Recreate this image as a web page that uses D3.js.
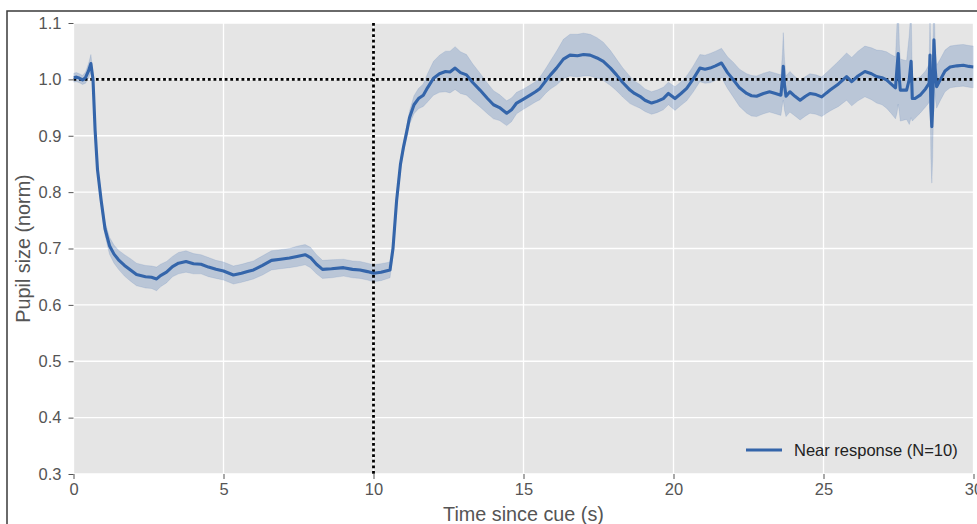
<!DOCTYPE html>
<html>
<head>
<meta charset="utf-8">
<script src="https://cdn.jsdelivr.net/npm/d3@7"></script>
<style>
  html, body { margin: 0; padding: 0; background: #ffffff; }
  svg { display: block; }
  text { font-family: "Liberation Sans", Arial, sans-serif; }
</style>
</head>
<body>
<svg id="chart" width="977" height="524"></svg>
<script>
// ---- data ----
const timeSec = [
  0.00,0.10,0.20,0.30,0.40,0.50,0.58,0.65,0.72,0.80,0.92,1.05,1.20,1.35,1.50,1.70,1.90,2.10,2.40,2.60,2.77,2.90,
  3.10,3.30,3.50,3.75,4.00,4.25,4.50,4.75,5.00,5.33,5.60,5.80,6.00,6.30,6.60,6.90,7.20,7.45,7.72,7.90,8.10,8.30,
  8.60,9.00,9.30,9.55,9.80,10.00,10.25,10.55,10.65,10.77,10.90,11.00,11.10,11.20,11.35,11.50,11.66,11.80,12.00,
  12.20,12.40,12.55,12.72,12.90,13.10,13.30,13.55,13.80,14.00,14.20,14.44,14.60,14.77,15.00,15.22,15.40,15.55,
  15.75,15.90,16.10,16.33,16.55,16.80,17.00,17.22,17.45,17.66,17.90,18.10,18.30,18.55,18.70,18.88,19.05,19.27,
  19.45,19.66,19.83,20.05,20.25,20.44,20.65,20.88,21.05,21.22,21.40,21.60,21.80,22.00,22.20,22.44,22.60,22.77,
  23.00,23.20,23.40,23.58,23.63,23.66,23.70,23.75,23.88,24.05,24.22,24.40,24.55,24.75,24.94,25.10,25.22,25.50,
  25.77,25.94,26.15,26.38,26.60,26.77,26.95,27.10,27.25,27.40,27.45,27.49,27.53,27.56,27.77,27.86,27.92,27.96,
  28.05,28.22,28.40,28.52,28.55,28.58,28.61,28.64,28.68,28.72,28.77,28.90,29.05,29.22,29.45,29.66,29.85,30.00
];
const meanPupil = [
  1.003,1.004,1.002,0.999,1.003,1.015,1.028,1.000,0.910,0.840,0.786,0.735,0.705,0.690,0.680,0.670,0.662,0.654,0.650,0.649,0.646,0.652,
  0.658,0.668,0.674,0.677,0.673,0.672,0.667,0.663,0.660,0.653,0.656,0.659,0.662,0.670,0.679,0.681,0.683,0.686,0.689,0.684,0.672,0.663,
  0.664,0.666,0.663,0.662,0.659,0.656,0.658,0.662,0.700,0.785,0.850,0.880,0.905,0.932,0.955,0.966,0.972,0.985,1.002,
  1.010,1.014,1.013,1.020,1.012,1.008,0.995,0.981,0.966,0.955,0.950,0.940,0.946,0.958,0.965,0.972,0.978,0.984,
  0.998,1.008,1.020,1.036,1.043,1.042,1.044,1.043,1.038,1.032,1.020,1.008,0.995,0.981,0.975,0.970,0.963,0.958,
  0.961,0.966,0.975,0.966,0.975,0.984,1.000,1.020,1.018,1.020,1.024,1.029,1.012,0.999,0.985,0.975,0.971,0.970,
  0.975,0.978,0.975,0.972,1.000,1.023,0.990,0.970,0.978,0.970,0.963,0.970,0.975,0.973,0.969,0.976,0.981,0.992,
  1.005,0.996,1.006,1.014,1.010,1.005,1.003,0.999,0.992,0.985,1.020,1.046,1.000,0.981,0.981,1.000,1.032,0.966,
  0.966,0.972,0.983,0.993,1.043,0.950,0.916,0.950,1.070,1.020,0.987,1.000,1.015,1.022,1.024,1.025,1.023,1.022
];
const ciHalf = [
  0.008,0.008,0.008,0.008,0.010,0.013,0.016,0.010,0.008,0.008,0.008,0.012,0.015,0.016,0.017,0.019,0.020,0.020,0.020,0.020,0.021,0.020,
  0.019,0.018,0.019,0.019,0.018,0.017,0.017,0.016,0.016,0.016,0.016,0.016,0.016,0.017,0.017,0.017,0.017,0.018,0.018,0.018,0.017,0.016,
  0.016,0.015,0.015,0.015,0.015,0.015,0.015,0.014,0.012,0.010,0.010,0.010,0.010,0.012,0.016,0.018,0.020,0.025,0.030,
  0.033,0.036,0.037,0.038,0.037,0.036,0.033,0.030,0.027,0.025,0.023,0.022,0.021,0.019,0.018,0.018,0.018,0.020,
  0.022,0.025,0.030,0.035,0.037,0.038,0.038,0.037,0.036,0.034,0.031,0.028,0.026,0.024,0.022,0.021,0.020,0.020,
  0.020,0.020,0.020,0.021,0.021,0.022,0.023,0.024,0.025,0.026,0.026,0.026,0.028,0.031,0.033,0.035,0.036,0.036,
  0.036,0.036,0.036,0.036,0.045,0.060,0.045,0.036,0.036,0.035,0.035,0.035,0.035,0.035,0.035,0.036,0.037,0.040,
  0.042,0.043,0.044,0.045,0.046,0.047,0.048,0.050,0.052,0.055,0.080,0.090,0.060,0.055,0.052,0.080,0.100,0.040,
  0.035,0.032,0.032,0.034,0.070,0.090,0.100,0.090,0.080,0.050,0.038,0.037,0.037,0.037,0.037,0.037,0.037,0.037
];
const xTicks = [0, 5, 10, 15, 20, 25, 30];
const yTicks = [0.3, 0.4, 0.5, 0.6, 0.7, 0.8, 0.9, 1.0, 1.1];
const cueTime = 10;
const baseline = 1.0;
const legendLabel = "Near response (N=10)";
const xLabel = "Time since cue (s)";
const yLabel = "Pupil size (norm)";

// ---- layout ----
const W = 977, H = 524;
const plot = { left: 73.5, right: 973.5, top: 23, bottom: 474 };
const lineColor = "#3465aa";
const svg = d3.select("#chart");

// outer frame
svg.append("rect")
  .attr("x", 7).attr("y", 11).attr("width", 1000).attr("height", 600)
  .attr("fill", "none").attr("stroke", "#3a3a3a").attr("stroke-width", 1.5);

const x = d3.scaleLinear().domain([0, 30]).range([plot.left, plot.right]);
const y = d3.scaleLinear().domain([0.3, 1.1]).range([plot.bottom, plot.top]);

// background
svg.append("rect")
  .attr("x", plot.left).attr("y", plot.top)
  .attr("width", plot.right - plot.left).attr("height", plot.bottom - plot.top)
  .attr("fill", "#e5e5e5");

// grid
const grid = svg.append("g");
grid.selectAll("line.gx").data(xTicks).enter().append("line")
  .attr("x1", d => x(d)).attr("x2", d => x(d))
  .attr("y1", plot.top).attr("y2", plot.bottom)
  .attr("stroke", "#ffffff").attr("stroke-width", 1.3);
grid.selectAll("line.gy").data(yTicks).enter().append("line")
  .attr("x1", plot.left).attr("x2", plot.right)
  .attr("y1", d => y(d)).attr("y2", d => y(d))
  .attr("stroke", "#ffffff").attr("stroke-width", 1.3);

// clip
svg.append("clipPath").attr("id", "clip").append("rect")
  .attr("x", plot.left).attr("y", plot.top)
  .attr("width", plot.right - plot.left).attr("height", plot.bottom - plot.top);

const data = timeSec.map((t, i) => ({ t, m: meanPupil[i], h: ciHalf[i] }));

const area = d3.area()
  .x(d => x(d.t)).y0(d => y(d.m - d.h)).y1(d => y(d.m + d.h));
const line = d3.line().x(d => x(d.t)).y(d => y(d.m));

const g = svg.append("g").attr("clip-path", "url(#clip)");
g.append("path").datum(data).attr("d", area)
  .attr("fill", lineColor).attr("fill-opacity", 0.24)
  .attr("stroke", lineColor).attr("stroke-opacity", 0.12).attr("stroke-width", 1);

// reference dotted lines
g.append("line")
  .attr("x1", plot.left).attr("x2", plot.right)
  .attr("y1", y(baseline)).attr("y2", y(baseline))
  .attr("stroke", "#000").attr("stroke-width", 2.8).attr("stroke-dasharray", "2.8,2.8");
g.append("line")
  .attr("x1", x(cueTime)).attr("x2", x(cueTime))
  .attr("y1", plot.top).attr("y2", plot.bottom)
  .attr("stroke", "#000").attr("stroke-width", 2.8).attr("stroke-dasharray", "2.8,2.8");

g.append("path").datum(data).attr("d", line)
  .attr("fill", "none").attr("stroke", lineColor).attr("stroke-width", 3.1)
  .attr("stroke-linejoin", "round");

// axes
const xAxis = d3.axisBottom(x).tickValues(xTicks).tickFormat(d3.format("d")).tickSize(5).tickPadding(4);
const yAxis = d3.axisLeft(y).tickValues(yTicks).tickFormat(d3.format(".1f")).tickSize(5).tickPadding(7);

const gx = svg.append("g").attr("transform", `translate(0,${plot.bottom})`).call(xAxis);
const gy = svg.append("g").attr("transform", `translate(${plot.left},0)`).call(yAxis);
[gx, gy].forEach(a => {
  a.select(".domain").remove();
  a.selectAll(".tick line").attr("stroke", "#555").attr("stroke-width", 1);
  a.selectAll(".tick text").attr("fill", "#555").style("font-size", "16.5px")
    .style("font-family", "'Liberation Sans', Arial, sans-serif");
});

// axis labels
svg.append("text")
  .attr("x", (plot.left + plot.right) / 2).attr("y", 521)
  .attr("text-anchor", "middle").attr("fill", "#555").style("font-size", "19.8px")
  .text(xLabel);
svg.append("text")
  .attr("transform", `translate(29.5,${(plot.top + plot.bottom) / 2}) rotate(-90)`)
  .attr("text-anchor", "middle").attr("fill", "#555").style("font-size", "19.8px")
  .text(yLabel);

// legend
const lg = svg.append("g");
lg.append("line").attr("x1", 746).attr("x2", 782).attr("y1", 450).attr("y2", 450)
  .attr("stroke", lineColor).attr("stroke-width", 2.8);
lg.append("text").attr("x", 794).attr("y", 456)
  .attr("fill", "#222").style("font-size", "16.5px").text(legendLabel);
</script>
</body>
</html>
